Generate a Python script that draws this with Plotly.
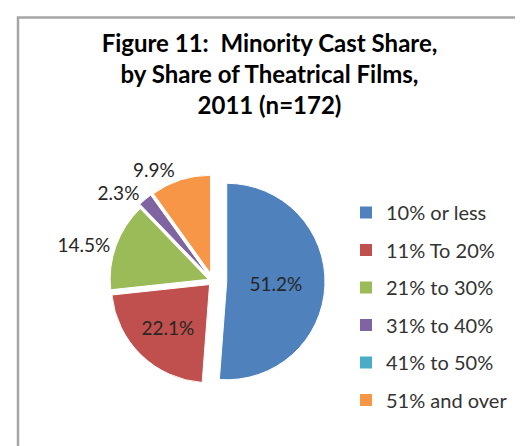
import plotly.graph_objects as go

categories = ["10% or less", "11% To 20%", "21% to 30%", "31% to 40%", "41% to 50%", "51% and over"]
shares = [51.2, 22.1, 14.5, 2.3, 0.0, 9.9]
colors = ["#4F81BD", "#C0504D", "#9BBB59", "#8064A2", "#4BACC6", "#F79646"]
label_pos = ["inside", "inside", "outside", "outside", "none", "outside"]
pulls = [0.14, 0.05, 0.05, 0.08, 0.0, 0.08]

title_text = "Figure 11:  Minority Cast Share,<br>by Share of Theatrical Films,<br>2011 (n=172)"

W, H = 523, 446
FONT = "Lato, 'Open Sans', sans-serif"

fig = go.Figure()
fig.add_trace(go.Pie(
    labels=categories,
    values=shares,
    sort=False,
    direction="clockwise",
    rotation=0,
    pull=pulls,
    marker=dict(colors=colors, line=dict(color="white", width=1)),
    texttemplate="%{value:.1f}%",
    textposition=label_pos,
    textfont=dict(family=FONT, size=19, color="#262626"),
    insidetextorientation="horizontal",
    showlegend=False,
    hoverinfo="label+value",
    domain=dict(x=[90 / W, 320 / W], y=[1 - 385 / H, 1 - 161 / H]),
))

# legend entries (one per category)
for name, c in zip(categories, colors):
    fig.add_trace(go.Scatter(
        x=[None], y=[None], mode="markers", name=name,
        marker=dict(symbol="square", size=9, color=c),
        legendgroup=name, hoverinfo="skip",
    ))

fig.update_layout(
    width=W, height=H,
    margin=dict(l=0, r=0, t=0, b=0),
    paper_bgcolor="white", plot_bgcolor="white",
    xaxis=dict(visible=False), yaxis=dict(visible=False),
    title=dict(text=title_text, x=0.5, xanchor="center", y=1 - 44 / H, yanchor="top",
               font=dict(family=FONT, size=24, color="#000000", weight="bold")),
    legend=dict(x=338 / W, xanchor="left", y=1 - 185 / H, yanchor="top",
                font=dict(family=FONT, size=20, color="#333333"),
                tracegroupgap=8.5, itemsizing="constant", bgcolor="rgba(0,0,0,0)"),
    shapes=[dict(type="rect", xref="paper", yref="paper",
                 x0=10 / W, x1=1.05, y0=-0.05, y1=1 - 9.5 / H,
                 line=dict(color="#A6A6A6", width=2.5), fillcolor="rgba(0,0,0,0)", layer="above")],
)

fig.write_html("out.html")
